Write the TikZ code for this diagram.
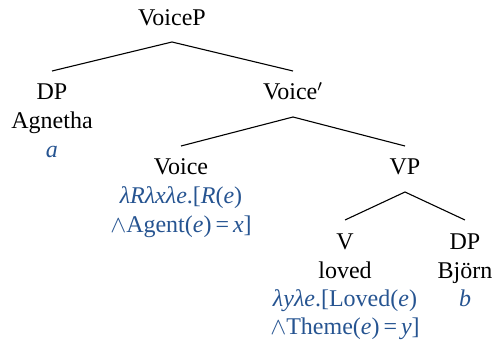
\documentclass[tikz,border=0pt]{standalone}
\usepackage{fontspec}
\setmainfont{Liberation Serif}
\definecolor{semblue}{RGB}{38,84,145}
\begin{document}
\begin{tikzpicture}[x=0.5pt,y=-0.5pt,
  lab/.style={anchor=base,inner sep=0pt,font=\fontsize{12}{14}\selectfont},
  sem/.style={lab,text=semblue},
  edge/.style={line width=0.55pt}]
\useasboundingbox (0,0) rectangle (494,342);
% nodes
\node[lab] (voicep) at (172,26) {VoiceP};
\node[lab] (dp1) at (52,100) {DP};
\node[lab] (agnetha) at (52,129) {Agnetha};
\node[sem] (a) at (52,158) {\textit{a}};
\node[lab] (voicebar) at (293,100) {Voice$'$};
\node[lab] (voice) at (181,175) {Voice};
\node[sem] (voicesem1) at (181,204) {\textit{λRλxλe}.[\textit{R}(\textit{e})};
\node[sem] (voicesem2) at (181,233) {$\wedge$Agent(\textit{e})\,=\,\textit{x}]};
\node[lab] (vp) at (405,175) {VP};
\node[lab] (v) at (345,250) {V};
\node[lab] (loved) at (345,279) {loved};
\node[sem] (vsem1) at (345,307) {\textit{λyλe}.[Loved(\textit{e})};
\node[sem] (vsem2) at (345,335) {$\wedge$Theme(\textit{e})\,=\,\textit{y}]};
\node[lab] (dp2) at (465,250) {DP};
\node[lab] (bjorn) at (465,279) {Björn};
\node[sem] (b) at (465,307) {\textit{b}};
% edges
\draw[edge] ([yshift=14.5pt]dp1.base) -- ([yshift=-8pt]voicep.base) -- ([yshift=14.5pt]voicebar.base);
\draw[edge] ([yshift=14.5pt]voice.base) -- ([yshift=-8.5pt]voicebar.base) -- ([yshift=14.5pt]vp.base);
\draw[edge] ([yshift=15pt]v.base) -- ([yshift=-8.5pt]vp.base) -- ([yshift=15pt]dp2.base);
\end{tikzpicture}
\end{document}
